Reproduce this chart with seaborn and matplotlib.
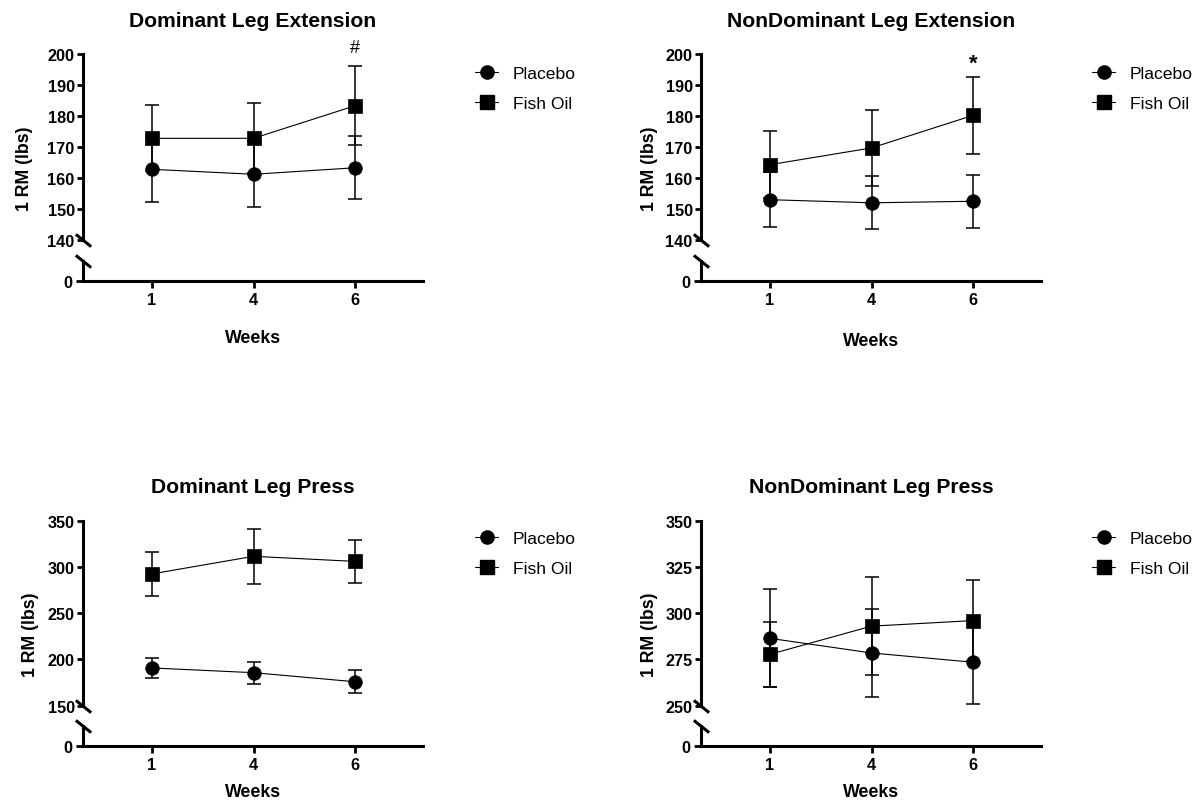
import numpy as np
import pandas as pd
import matplotlib
matplotlib.use("Agg")
import matplotlib.pyplot as plt
from matplotlib.lines import Line2D
import seaborn as sns

# ---------------- data ----------------
weeks = ["1", "4", "6"]
groups = ["Placebo", "Fish Oil"]
titles = ["Dominant Leg Extension", "NonDominant Leg Extension",
          "Dominant Leg Press", "NonDominant Leg Press"]

dle_placebo = [162.8, 161.2, 163.3]
dle_placebo_sd = [10.5, 10.6, 10.2]
dle_fish = [172.8, 172.8, 183.3]
dle_fish_sd = [10.6, 11.3, 12.7]

ndle_placebo = [153.0, 152.0, 152.5]
ndle_placebo_sd = [8.8, 8.6, 8.6]
ndle_fish = [164.3, 169.7, 180.2]
ndle_fish_sd = [10.9, 12.2, 12.5]

dlp_placebo = [190.8, 185.7, 175.9]
dlp_placebo_sd = [10.8, 11.9, 12.4]
dlp_fish = [292.5, 311.5, 306.0]
dlp_fish_sd = [23.6, 29.5, 23.3]

ndlp_placebo = [286.4, 278.5, 273.5]
ndlp_placebo_sd = [26.5, 23.7, 22.7]
ndlp_fish = [277.8, 293.0, 296.0]
ndlp_fish_sd = [17.7, 26.5, 21.8]

y_ranges = [(140, 200), (140, 200), (150, 350), (250, 350)]
y_steps = [10, 10, 50, 25]
annotations = ["#", "*", "", ""]

panels_data = [
    (dle_placebo, dle_placebo_sd, dle_fish, dle_fish_sd),
    (ndle_placebo, ndle_placebo_sd, ndle_fish, ndle_fish_sd),
    (dlp_placebo, dlp_placebo_sd, dlp_fish, dlp_fish_sd),
    (ndlp_placebo, ndlp_placebo_sd, ndlp_fish, ndlp_fish_sd),
]

# ---------------- style ----------------
sns.set_theme(style="white")
plt.rcParams["font.family"] = ["Liberation Sans", "DejaVu Sans"]
plt.rcParams["axes.linewidth"] = 2.2
for k in ["text.color", "axes.labelcolor", "xtick.color", "ytick.color", "axes.edgecolor"]:
    plt.rcParams[k] = "black"

W, H = 1204, 804
fig = plt.figure(figsize=(W / 100, H / 100), dpi=100)


def px_axes(left, right, top, bottom):
    return fig.add_axes([left / W, 1 - bottom / H, (right - left) / W, (bottom - top) / H])


# layout (pixels): left, right, top, break_bottom, low_top, low_bottom
layout = [
    (83, 423, 55, 241, 262, 282),
    (701, 1041, 55, 241, 262, 282),
    (83, 423, 521.7, 706.7, 727, 747),
    (701, 1041, 521.7, 706.7, 727, 747),
]
ylabel_dx = [-50, -43, -44, -43]
xlabel_top = [330, 333, 784, 784]
title_pad = [20, 20, 21, 21]
legend_anchor = [(475, 67), (1092, 67), (475, 532), (1092, 532)]
annot_style = [dict(fontsize=13, fontweight="normal", offset=4.6),
               dict(fontsize=16, fontweight="bold", offset=2.7), None, None]

markers = {"Placebo": "o", "Fish Oil": "s"}
tick_fs = 11.7
label_fs = 12.8
pos = np.arange(len(weeks))

for i, (pl, pl_sd, fo, fo_sd) in enumerate(panels_data):
    left, right, top, bb, lt, lb = layout[i]
    ax = px_axes(left, right, top, bb)
    axl = px_axes(left, right, lt, lb)

    df = pd.DataFrame({
        "pos": np.concatenate([pos, pos]),
        "value": list(pl) + list(fo),
        "sd": list(pl_sd) + list(fo_sd),
        "group": [groups[0]] * len(weeks) + [groups[1]] * len(weeks),
    })

    for g in groups:
        sub = df[df["group"] == g]
        ax.errorbar(sub["pos"], sub["value"], yerr=sub["sd"], fmt="none",
                    ecolor="black", elinewidth=1.1, capsize=5.0, capthick=1.1,
                    zorder=2, clip_on=False)

    sns.lineplot(data=df, x="pos", y="value", style="group", markers=markers,
                 dashes=False, color="black", linewidth=0.8, markersize=9.8,
                 markeredgecolor="black", markeredgewidth=0.5,
                 ax=ax, legend=False, zorder=3)
    for ln in ax.lines:
        ln.set_clip_on(False)

    y0, y1 = y_ranges[i]
    ax.set_ylim(y0, y1)
    ax.set_yticks(np.arange(y0, y1 + 0.1, y_steps[i]))
    ax.set_xlim(-0.68, 2.67)
    ax.set_xticks([])
    ax.set_xlabel("")
    for s in ["top", "right", "bottom"]:
        ax.spines[s].set_visible(False)
    ax.tick_params(axis="y", direction="out", length=4, width=2.0, pad=2,
                   labelsize=tick_fs, left=True)
    for lab in ax.get_yticklabels():
        lab.set_fontweight("bold")

    ax.set_title(titles[i], fontsize=15.2, fontweight="bold", pad=title_pad[i])
    ax.set_ylabel("1 RM (lbs)", fontsize=label_fs, fontweight="bold")
    ax.yaxis.set_label_coords(ylabel_dx[i] / (right - left),
                              (bb - (top + lb) / 2) / (bb - top))

    if annotations[i]:
        st = annot_style[i]
        ax.text(pos[-1], fo[-1] + fo_sd[-1] + st["offset"], annotations[i],
                ha="center", va="baseline", fontsize=st["fontsize"],
                fontweight=st["fontweight"], clip_on=False)

    # lower stub axis
    axl.set_xlim(-0.68, 2.67)
    axl.set_ylim(0, 10)
    axl.set_yticks([0])
    axl.set_xticks(pos)
    axl.set_xticklabels(weeks)
    for s in ["top", "right"]:
        axl.spines[s].set_visible(False)
    axl.tick_params(axis="both", direction="out", length=5, width=2.0, pad=3,
                    labelsize=tick_fs, left=True, bottom=True)
    for lab in axl.get_xticklabels() + axl.get_yticklabels():
        lab.set_fontweight("bold")
    axl.set_xlabel("Weeks", fontsize=label_fs, fontweight="bold")
    axl.xaxis.set_label_coords(0.5, -(xlabel_top[i] - lb) / (lb - lt))
    axl.set_facecolor("none")
    ax.set_facecolor("none")

    # break marks
    kw = dict(marker=[(-1, 0.8), (1, -0.8)], markersize=11, linestyle="none",
              color="black", mec="black", mew=2.2, clip_on=False)
    ax.plot([0], [0], transform=ax.transAxes, **kw)
    axl.plot([0], [1], transform=axl.transAxes, **kw)

    # legend
    handles = [Line2D([], [], color="black", lw=0.8, marker=markers[g],
                      markersize=9.5, markerfacecolor="black", markeredgecolor="black")
               for g in groups]
    lx, ly = legend_anchor[i]
    ax.legend(handles, groups, loc="upper left",
              bbox_to_anchor=(lx / W, 1 - ly / H), bbox_transform=fig.transFigure,
              frameon=False, borderpad=0, borderaxespad=0, handlelength=1.32,
              handletextpad=0.85, labelspacing=0.85, fontsize=12.6)

fig.savefig("out.png", dpi=100, facecolor="white")
